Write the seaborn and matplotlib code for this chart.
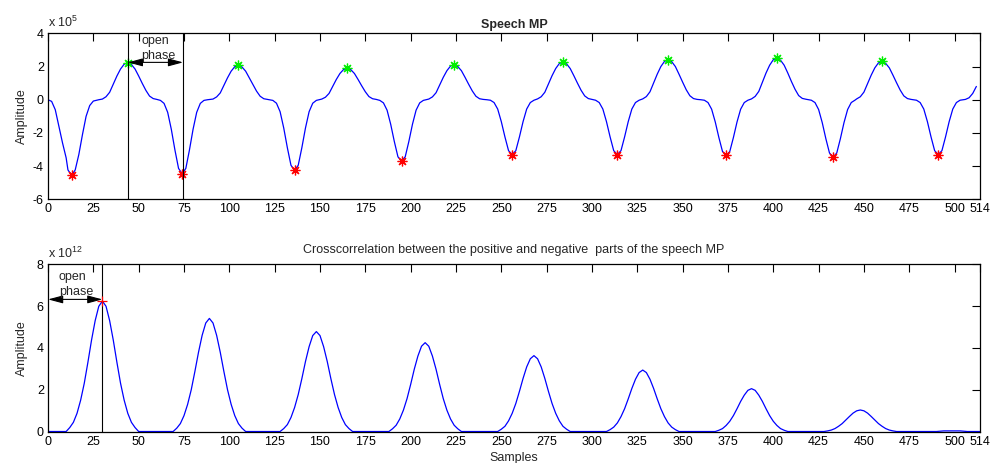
import matplotlib
matplotlib.use("Agg")
import matplotlib.pyplot as plt
import seaborn as sns

# ---------------- data ----------------
# Top panel: speech MP, amplitude in units of 1e5
mp_samples = [
    0, 2, 4, 6, 8, 10, 11, 13, 15, 17, 19, 21, 23, 25, 28,
    30, 32, 34, 36, 38, 40, 42, 44, 46, 48, 50, 52, 54, 56, 58, 60,
    62, 64, 66, 68, 70, 72, 74, 76, 78, 80, 82, 84, 86, 88,
    91, 93, 95, 97, 99, 101, 103, 105, 107, 109, 111, 113, 115, 117, 119, 121,
    124, 126, 128, 130, 132, 134, 136, 138, 140, 142, 144, 146, 148,
    151, 153, 155, 157, 159, 161, 163, 165, 167, 169, 171, 173, 175, 177, 179, 181,
    183, 185, 187, 189, 191, 193, 195, 197, 199, 201, 203, 205, 207,
    210, 212, 214, 216, 218, 220, 222, 224, 226, 228, 230, 232, 234, 236, 238, 240, 242,
    244, 246, 248, 250, 252, 254, 256, 258, 260, 262, 264, 266, 268,
    270, 272, 274, 276, 278, 280, 282, 284, 286, 288, 290, 292, 294, 296, 298, 300,
    302, 304, 306, 308, 310, 312, 314, 316, 318, 320, 322, 324, 326,
    328, 330, 332, 334, 336, 338, 340, 342, 344, 346, 348, 350, 352, 354, 356, 358, 360,
    362, 364, 366, 368, 370, 372, 374, 376, 378, 380, 382, 384, 386,
    388, 390, 392, 394, 396, 398, 400, 402, 404, 406, 408, 410, 412, 414, 416, 418,
    421, 423, 425, 427, 429, 431, 433, 435, 437, 439, 441, 443, 445,
    446, 448, 450, 452, 454, 456, 458, 460, 462, 464, 466, 468, 470, 472, 474, 476,
    479, 481, 483, 485, 487, 489, 491, 493, 495, 497, 499, 501, 503,
    506, 508, 510, 512,
]
mp_amp = [
    0, -0.1, -0.6, -1.6, -2.6, -3.5, -4.23, -4.55, -4.23, -3.3, -2.1, -1.0, -0.35, -0.08, 0.0,
    0.04, 0.18, 0.45, 0.94, 1.43, 1.85, 2.14, 2.23, 2.12, 1.85, 1.43, 0.98, 0.56, 0.22, 0.07, 0.02,
    -0.04, -0.22, -0.76, -1.78, -3.03, -4.14, -4.45, -4.14, -3.03, -1.78, -0.76, -0.22, -0.04, 0.0,
    0.04, 0.17, 0.41, 0.87, 1.32, 1.72, 1.99, 2.07, 1.97, 1.72, 1.32, 0.91, 0.52, 0.21, 0.06, 0.02,
    -0.04, -0.21, -0.72, -1.70, -2.89, -3.95, -4.25, -3.95, -2.89, -1.70, -0.72, -0.21, -0.04,
    0.04, 0.15, 0.38, 0.80, 1.22, 1.58, 1.82, 1.90, 1.81, 1.58, 1.22, 0.84, 0.48, 0.19, 0.06, 0.02,
    -0.04, -0.19, -0.63, -1.48, -2.52, -3.44, -3.70, -3.44, -2.52, -1.48, -0.63, -0.19, -0.04,
    0.04, 0.17, 0.42, 0.89, 1.35, 1.75, 2.03, 2.11, 2.00, 1.75, 1.35, 0.93, 0.53, 0.21, 0.06, 0.02, 0.0,
    -0.03, -0.17, -0.56, -1.32, -2.24, -3.07, -3.30, -3.07, -2.24, -1.32, -0.56, -0.17, -0.03,
    0.05, 0.18, 0.45, 0.95, 1.45, 1.88, 2.18, 2.27, 2.16, 1.88, 1.45, 1.00, 0.57, 0.23, 0.07, 0.02,
    -0.03, -0.17, -0.56, -1.32, -2.24, -3.07, -3.30, -3.07, -2.24, -1.32, -0.56, -0.17, -0.03,
    0.05, 0.19, 0.48, 1.01, 1.54, 2.00, 2.31, 2.41, 2.29, 2.00, 1.54, 1.06, 0.60, 0.24, 0.07, 0.02, 0.0,
    -0.03, -0.17, -0.57, -1.34, -2.28, -3.12, -3.35, -3.12, -2.28, -1.34, -0.57, -0.17, -0.03,
    0.05, 0.20, 0.50, 1.05, 1.61, 2.08, 2.41, 2.51, 2.38, 2.08, 1.61, 1.10, 0.63, 0.25, 0.08, 0.03,
    -0.03, -0.17, -0.59, -1.38, -2.35, -3.21, -3.45, -3.21, -2.35, -1.38, -0.59, -0.17, -0.03,
    0.05, 0.18, 0.46, 0.97, 1.48, 1.92, 2.22, 2.31, 2.19, 1.92, 1.48, 1.02, 0.58, 0.23, 0.07, 0.02,
    -0.03, -0.17, -0.56, -1.32, -2.24, -3.07, -3.30, -3.07, -2.24, -1.32, -0.56, -0.17, -0.03,
    0.02, 0.12, 0.38, 0.8,
]
trough_x = [13, 74, 136, 195, 256, 314, 374, 433, 491]
trough_y = [-4.55, -4.45, -4.25, -3.70, -3.30, -3.30, -3.35, -3.45, -3.30]
peak_x = [44, 105, 165, 224, 284, 342, 402, 460]
peak_y = [2.23, 2.07, 1.90, 2.11, 2.27, 2.41, 2.51, 2.31]
phase_lines_top = [44, 74.5]

# Bottom panel: cross-correlation, amplitude in units of 1e12
cc_samples = [
    0,
    10, 12, 14, 16, 18, 20, 22, 24, 26, 28, 30, 32, 34, 36, 38, 40, 42, 44, 46, 48, 50,
    69, 71, 73, 75, 77, 79, 81, 83, 85, 87, 89, 91, 93, 95, 97, 99, 101, 103, 105, 107, 109,
    128, 130, 132, 134, 136, 138, 140, 142, 144, 146, 148, 150, 152, 154, 156, 158, 160, 162, 164, 166, 168,
    188, 190, 192, 194, 196, 198, 200, 202, 204, 206, 208, 210, 212, 214, 216, 218, 220, 222, 224, 226, 228,
    248, 250, 252, 254, 256, 258, 260, 262, 264, 266, 268, 270, 272, 274, 276, 278, 280, 282, 284, 286, 288,
    308, 310, 312, 314, 316, 318, 320, 322, 324, 326, 328, 330, 332, 334, 336, 338, 340, 342, 344, 346, 348,
    368, 370, 372, 374, 376, 378, 380, 382, 384, 386, 388, 390, 392, 394, 396, 398, 400, 402, 404, 406, 408,
    428, 430, 432, 434, 436, 438, 440, 442, 444, 446, 448, 450, 452, 454, 456, 458, 460, 462, 464, 466, 468,
    490, 494, 503, 507, 514,
]
cc_amp = [
    0,
    0, 0.19, 0.44, 0.87, 1.50, 2.31, 3.31, 4.37, 5.30, 5.99, 6.24, 5.99, 5.30, 4.37, 3.31, 2.31, 1.50, 0.87, 0.44, 0.19, 0,
    0, 0.16, 0.38, 0.76, 1.30, 2.00, 2.87, 3.79, 4.60, 5.19, 5.41, 5.19, 4.60, 3.79, 2.87, 2.00, 1.30, 0.76, 0.38, 0.16, 0,
    0, 0.14, 0.33, 0.67, 1.15, 1.77, 2.53, 3.35, 4.06, 4.59, 4.78, 4.59, 4.06, 3.35, 2.53, 1.77, 1.15, 0.67, 0.33, 0.14, 0,
    0, 0.13, 0.30, 0.60, 1.02, 1.57, 2.25, 2.98, 3.61, 4.08, 4.25, 4.08, 3.61, 2.98, 2.25, 1.57, 1.02, 0.60, 0.30, 0.13, 0,
    0, 0.11, 0.25, 0.51, 0.87, 1.34, 1.92, 2.54, 3.09, 3.48, 3.63, 3.48, 3.09, 2.54, 1.92, 1.34, 0.87, 0.51, 0.25, 0.11, 0,
    0, 0.09, 0.21, 0.41, 0.71, 1.09, 1.56, 2.06, 2.50, 2.82, 2.94, 2.82, 2.50, 2.06, 1.56, 1.09, 0.71, 0.41, 0.21, 0.09, 0,
    0, 0.06, 0.14, 0.29, 0.49, 0.76, 1.09, 1.44, 1.74, 1.97, 2.05, 1.97, 1.74, 1.44, 1.09, 0.76, 0.49, 0.29, 0.14, 0.06, 0,
    0, 0.03, 0.07, 0.14, 0.25, 0.38, 0.55, 0.72, 0.88, 0.99, 1.03, 0.99, 0.88, 0.72, 0.55, 0.38, 0.25, 0.14, 0.07, 0.03, 0,
    0, 0.03, 0.03, 0, 0,
]
cc_peak_x = [30]
cc_peak_y = [6.24]

x_ticks = [0, 25, 50, 75, 100, 125, 150, 175, 200, 225, 250, 275, 300, 325,
           350, 375, 400, 425, 450, 475, 500, 514]
top_yticks = [-6, -4, -2, 0, 2, 4]
bot_yticks = [0, 2, 4, 6, 8]

# ---------------- style ----------------
sns.set_theme(style="white")
plt.rcParams["font.family"] = ["Liberation Sans", "DejaVu Sans"]
plt.rcParams["mathtext.default"] = "regular"
plt.rcParams["axes.unicode_minus"] = False
FS = 9

fig = plt.figure(figsize=(9.94, 4.63), dpi=100)
ax1 = fig.add_axes([0.0483, 0.5695, 0.9376, 0.3585])
ax2 = fig.add_axes([0.0483, 0.0680, 0.9376, 0.3612])

BLUE = "#0000ff"
ARROW = "<|-|>,head_length=0.75,head_width=0.2"

# top panel
sns.lineplot(x=mp_samples, y=mp_amp, ax=ax1, color=BLUE, lw=0.9,
             estimator=None, sort=False)
ax1.plot(trough_x, trough_y, ls="none", marker=(8, 2, 0), ms=7,
         mec="#ff0000", mew=0.9)
ax1.plot(peak_x, peak_y, ls="none", marker=(8, 2, 0), ms=7,
         mec="#00ee00", mew=0.9)
for xv in phase_lines_top:
    ax1.axvline(xv, color="black", lw=0.8)
ax1.annotate("", xy=(phase_lines_top[1], 2.25), xytext=(phase_lines_top[0], 2.25),
             arrowprops=dict(arrowstyle=ARROW, color="black", lw=0.8,
                             shrinkA=0, shrinkB=0))
ax1.text(51.5, 3.33, "open", fontsize=FS, va="baseline", ha="left")
ax1.text(51.5, 2.48, "phase", fontsize=FS, va="baseline", ha="left")
ax1.set_ylim(-6, 4)
ax1.set_yticks(top_yticks)
ax1.set_title("Speech MP", fontsize=FS, fontweight="bold", pad=4)
ax1.set_ylabel("Amplitude", fontsize=FS)
ax1.text(0, 1.039, "x 10$^{5}$", transform=ax1.transAxes, fontsize=FS,
         va="baseline", ha="left")

# bottom panel
sns.lineplot(x=cc_samples, y=cc_amp, ax=ax2, color=BLUE, lw=0.9,
             estimator=None, sort=False)
ax2.axvline(cc_peak_x[0], color="black", lw=0.8)
ax2.plot(cc_peak_x, cc_peak_y, ls="none", marker="+", ms=7,
         mec="#ff0000", mew=0.9)
ax2.annotate("", xy=(cc_peak_x[0], 6.32), xytext=(0, 6.32),
             arrowprops=dict(arrowstyle=ARROW, color="black", lw=0.8,
                             shrinkA=0, shrinkB=0))
ax2.text(6, 7.25, "open", fontsize=FS, va="baseline", ha="left")
ax2.text(6, 6.53, "phase", fontsize=FS, va="baseline", ha="left")
ax2.set_ylim(0, 8)
ax2.set_yticks(bot_yticks)
ax2.set_title("Crosscorrelation between the positive and negative  parts of the speech MP",
              fontsize=FS, pad=8)
ax2.set_ylabel("Amplitude", fontsize=FS)
ax2.set_xlabel("Samples", fontsize=FS)
ax2.xaxis.set_label_coords(0.5, -0.125)
ax2.text(0, 1.036, "x 10$^{12}$", transform=ax2.transAxes, fontsize=FS,
         va="baseline", ha="left")

for ax in (ax1, ax2):
    ax.set_xlim(0, 514)
    ax.set_xticks(x_ticks)
    ax.set_xticklabels([str(t) for t in x_ticks])
    ax.tick_params(direction="in", top=True, right=True, length=6, width=0.8,
                   labelsize=FS, pad=3, colors="black")
    for sp in ax.spines.values():
        sp.set_color("black")
        sp.set_linewidth(0.9)
    ax.yaxis.set_label_coords(-0.022, 0.5)
    ax.grid(False)

fig.savefig("out.png", dpi=100)
